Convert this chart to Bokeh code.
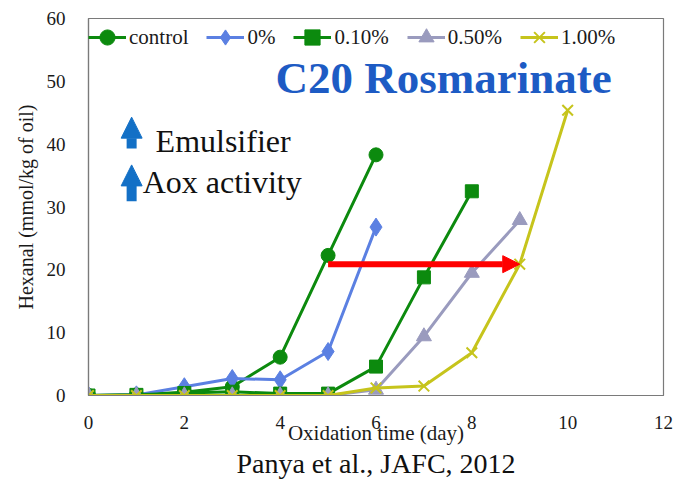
import math
from bokeh.plotting import figure
from bokeh.models import (Range1d, Legend, LegendItem, Label, Arrow, NormalHead,
                          FixedTicker, Title)
from bokeh.embed import file_html
from bokeh.resources import INLINE

# Hexanal formation (mmol/kg of oil) vs oxidation time (day)
days_control = [0, 1, 2, 3, 4, 5, 6]
hex_control = [0.0, 0.1, 0.5, 1.4, 6.1, 22.3, 38.3]

days_0 = [0, 1, 2, 3, 4, 5, 6]
hex_0 = [0.0, 0.1, 1.4, 2.7, 2.5, 7.0, 26.8]

days_010 = [0, 1, 2, 3, 4, 5, 6, 7, 8]
hex_010 = [0.0, 0.1, 0.4, 0.6, 0.3, 0.3, 4.6, 18.8, 32.5]

days_050 = [0, 1, 2, 3, 4, 5, 6, 7, 8, 9]
hex_050 = [0.0, 0.0, 0.0, 0.0, 0.0, 0.0, 0.9, 9.4, 19.5, 27.9]

days_100 = [0, 1, 2, 3, 4, 5, 6, 7, 8, 9, 10]
hex_100 = [0.0, 0.0, 0.0, 0.0, 0.0, 0.0, 1.2, 1.5, 6.8, 20.9, 45.4]

x_ticks = [0, 2, 4, 6, 8, 10, 12]
y_ticks = [0, 10, 20, 30, 40, 50, 60]

SERIF = "Liberation Serif"
TEXT = "#1a1a1a"

p = figure(width=674, height=480, output_backend="svg", toolbar_location=None,
           x_range=Range1d(0, 12), y_range=Range1d(0, 60),
           min_border_left=88, min_border_right=11, min_border_top=18,
           min_border_bottom=85)

p.xgrid.visible = False
p.ygrid.visible = False
p.outline_line_color = "#7a7a7a"
p.outline_line_width = 1.2
p.background_fill_color = "white"
p.border_fill_color = "white"

for ax in (p.xaxis[0], p.yaxis[0]):
    ax.axis_line_color = "#7a7a7a"
    ax.axis_line_width = 1.2
    ax.major_tick_line_color = None
    ax.minor_tick_line_color = None
    ax.major_label_text_font = SERIF
    ax.major_label_text_font_size = "19px"
    ax.major_label_text_color = TEXT
    ax.axis_label_text_font = SERIF
    ax.axis_label_text_font_style = "normal"
    ax.axis_label_text_color = TEXT

xa, ya = p.xaxis[0], p.yaxis[0]
xa.ticker = FixedTicker(ticks=x_ticks)
ya.ticker = FixedTicker(ticks=y_ticks)
xa.major_label_standoff = 14
ya.major_label_standoff = 17

xa.axis_label = "Oxidation time (day)"
xa.axis_label_text_font_size = "21px"
xa.axis_label_standoff = -11
ya.axis_label = "Hexanal (mmol/kg of oil)"
ya.axis_label_text_font_size = "20px"
ya.axis_label_standoff = 7

GREEN = "#0C8A0E"
BLUE = "#5B80E2"
GRAY = "#9A9BBE"
YELLOW = "#C6C41C"

items = []

l = p.line(days_control, hex_control, line_color=GREEN, line_width=3)
s = p.scatter(days_control, hex_control, marker="circle", size=14,
              fill_color=GREEN, line_color=GREEN)
items.append(LegendItem(label="control", renderers=[l, s]))

l = p.line(days_0, hex_0, line_color=BLUE, line_width=3)
s = p.scatter(days_0, hex_0, marker="diamond", size=18,
              fill_color=BLUE, line_color=BLUE)
items.append(LegendItem(label="0%", renderers=[l, s]))

l = p.line(days_010, hex_010, line_color=GREEN, line_width=3)
s = p.scatter(days_010, hex_010, marker="square", size=13,
              fill_color=GREEN, line_color=GREEN)
items.append(LegendItem(label="0.10%", renderers=[l, s]))

l = p.line(days_050, hex_050, line_color=GRAY, line_width=3)
s = p.scatter(days_050, hex_050, marker="triangle", size=15,
              fill_color=GRAY, line_color=GRAY)
items.append(LegendItem(label="0.50%", renderers=[l, s]))

l = p.line(days_100, hex_100, line_color=YELLOW, line_width=3)
s = p.scatter(days_100, hex_100, marker="x", size=15,
              line_color=YELLOW, line_width=2)
items.append(LegendItem(label="1.00%", renderers=[l, s]))

legend = Legend(items=items, orientation="horizontal", location="top_left",
                glyph_width=38, glyph_height=38, label_height=38,
                label_standoff=3, spacing=18, padding=0, margin=0,
                border_line_alpha=0, background_fill_alpha=0,
                label_text_font=SERIF, label_text_font_size="21px",
                label_text_color=TEXT)
p.add_layout(legend)

# red arrow: day at which control reaches the level of the 1.00% sample
p.add_layout(Arrow(x_start=5, y_start=hex_100[9], x_end=9, y_end=hex_100[9],
                   line_color="#FF0000", line_width=6,
                   end=NormalHead(size=17, fill_color="#FF0000",
                                  line_color="#FF0000")))

# blue "increase" arrows
ARROW_BLUE = "#1370C6"
for y0, y1 in ((39.3, 44.3), (30.9, 36.7)):
    p.add_layout(Arrow(x_start=0.9, y_start=y0, x_end=0.9, y_end=y1,
                       line_color=ARROW_BLUE, line_width=10,
                       end=NormalHead(size=21, fill_color=ARROW_BLUE,
                                      line_color=ARROW_BLUE)))

p.add_layout(Label(x=1.40, y=40.45, text="Emulsifier", text_font=SERIF,
                   text_font_size="32px", text_color="#111111",
                   text_baseline="alphabetic"))
p.add_layout(Label(x=1.13, y=33.9, text="Aox activity", text_font=SERIF,
                   text_font_size="32px", text_color="#111111",
                   text_baseline="alphabetic"))

p.add_layout(Label(x=7.41, y=50.6, text="C20 Rosmarinate", text_font=SERIF,
                   text_font_size="45px", text_font_style="bold",
                   text_color="#1D5BC4", text_align="center",
                   text_baseline="alphabetic"))

# citation under the axis
p.add_layout(Title(text="Panya et al., JAFC, 2012", align="center",
                   text_font=SERIF, text_font_size="28px",
                   text_font_style="normal", text_color="#111111",
                   standoff=-4, offset=0), "below")

open("out.html", "w").write(file_html(p, INLINE))
